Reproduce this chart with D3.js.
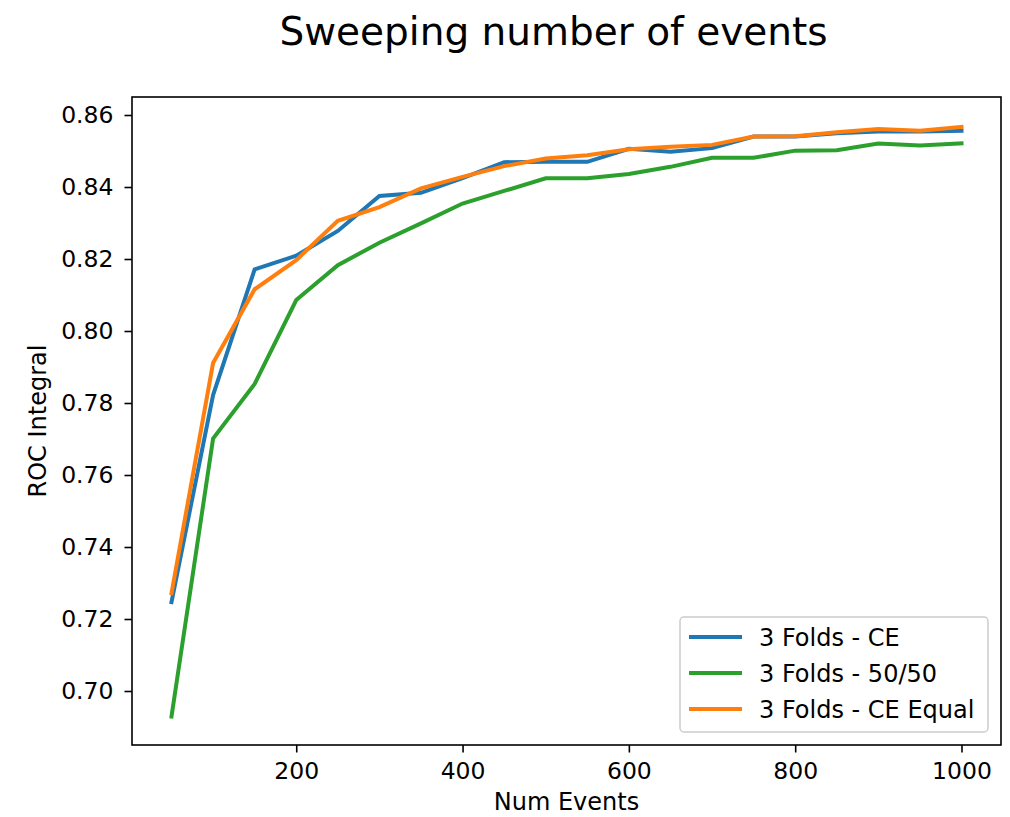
<!DOCTYPE html>
<html><head><meta charset="utf-8">
<script src="https://cdn.jsdelivr.net/npm/d3@7"></script>
<style>body{margin:0;background:#fff}svg{display:block}text{font-family:"DejaVu Sans",sans-serif}</style>
</head><body><svg id="c" width="1010" height="817"></svg>
<script>
const numEvents = [50,100,150,200,250,300,350,400,450,500,550,600,650,700,750,800,850,900,950,1000];
const ceValues = [0.7247,0.7822,0.8171,0.8209,0.8278,0.8375,0.8384,0.8425,0.8469,0.8470,0.8470,0.8506,0.8498,0.8508,0.8540,0.8540,0.8549,0.8554,0.8554,0.8556];
const fiftyValues = [0.6929,0.7701,0.7853,0.8086,0.8183,0.8245,0.8299,0.8354,0.8389,0.8424,0.8424,0.8436,0.8456,0.8481,0.8481,0.8501,0.8502,0.8521,0.8515,0.8521];
const ceEqualValues = [0.7272,0.7911,0.8116,0.8197,0.8306,0.8344,0.8396,0.8428,0.8458,0.8479,0.8488,0.8505,0.8512,0.8517,0.8540,0.8541,0.8552,0.8561,0.8556,0.8567];
const seriesNames = ["3 Folds - CE","3 Folds - 50/50","3 Folds - CE Equal"];
const seriesColors = ["#1f77b4","#2ca02c","#ff7f0e"];
const xTicks = [200,400,600,800,1000];
const yTicks = [0.70,0.72,0.74,0.76,0.78,0.80,0.82,0.84,0.86];

const svg = d3.select("#c");
const L=132, R=1001, T=97, B=745;
const x = d3.scaleLinear().domain([2.5,1047.5]).range([L,R]);
const y = d3.scaleLinear().domain([0.685,0.865]).range([B,T]);

const series = [ceValues, fiftyValues, ceEqualValues];
const line = d3.line().x((d,i)=>x(numEvents[i])).y(d=>y(d));
const g = svg.append("g");
series.forEach((s,k)=>{
  g.append("path").attr("d",line(s)).attr("fill","none").attr("stroke",seriesColors[k]).attr("stroke-width",4).attr("stroke-linejoin","miter").attr("stroke-linecap","square");
});

const xa = svg.append("g").attr("transform",`translate(0,${B})`).call(d3.axisBottom(x).tickValues(xTicks).tickSize(7.5).tickPadding(10).tickFormat(d3.format("d")));
const ya = svg.append("g").attr("transform",`translate(${L},0)`).call(d3.axisLeft(y).tickValues(yTicks).tickSize(7.5).tickPadding(11).tickFormat(d3.format(".2f")));
[xa,ya].forEach(a=>{a.select(".domain").remove();a.selectAll("text").attr("font-size",23.5).attr("font-family","DejaVu Sans").attr("fill","#000");a.selectAll("line").attr("stroke","#000").attr("stroke-width",1.6);});

svg.append("rect").attr("x",L).attr("y",T).attr("width",R-L).attr("height",B-T).attr("fill","none").attr("stroke","#000").attr("stroke-width",1.6);

svg.append("text").attr("x",(L+R)/2 - 13).attr("y",45).attr("text-anchor","middle").attr("font-size",39).text("Sweeping number of events");
svg.append("text").attr("x",(L+R)/2).attr("y",810).attr("text-anchor","middle").attr("font-size",24).text("Num Events");
svg.append("text").attr("transform",`translate(46,${(T+B)/2}) rotate(-90)`).attr("text-anchor","middle").attr("font-size",24).text("ROC Integral");

const lg = svg.append("g");
lg.append("rect").attr("x",680).attr("y",617).attr("width",308).attr("height",115).attr("rx",4).attr("fill","#fff").attr("fill-opacity",0.8).attr("stroke","#ccc").attr("stroke-width",1.5);
[0,1,2].forEach((k,i)=>{
  const yy = 637 + i*36;
  lg.append("line").attr("x1",689).attr("x2",742).attr("y1",yy).attr("y2",yy).attr("stroke",seriesColors[k]).attr("stroke-width",4);
  lg.append("text").attr("x",759).attr("y",yy+9).attr("font-size",24).text(seriesNames[k]);
});
</script></body></html>
